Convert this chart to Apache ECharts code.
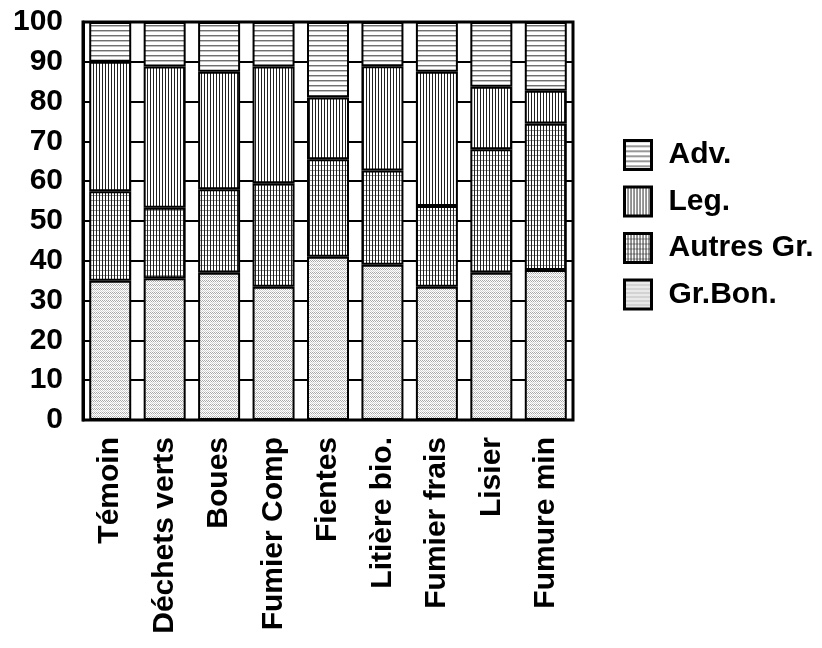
<!DOCTYPE html>
<html>
<head>
<meta charset="utf-8">
<script src="https://cdn.jsdelivr.net/npm/echarts@6/dist/echarts.min.js"></script>
<style>
html,body{margin:0;padding:0;background:#fff;}
#chart{width:822px;height:648px;}
</style>
</head>
<body>
<div id="chart"></div>
<script>
const categories = ['Témoin','Déchets verts','Boues','Fumier Comp','Fientes','Litière bio.','Fumier frais','Lisier','Fumure min'];
const grBon   = [35, 35.6, 37, 33.5, 41, 39, 33.5, 37, 37.7];
const autres  = [22.5, 17.7, 21, 26, 24.5, 23.7, 20.3, 31, 36.8];
const leg     = [32.5, 35.5, 29.5, 29.3, 15.5, 26.2, 33.7, 15.7, 8.2];
const adv     = [10, 11.2, 12.5, 11.2, 19, 11.1, 12.5, 16.3, 17.3];
const yTicks  = [0,10,20,30,40,50,60,70,80,90,100];

function makePattern(w, h, draw){
  const c = document.createElement('canvas');
  c.width = w; c.height = h;
  const ctx = c.getContext('2d');
  ctx.fillStyle = '#ffffff';
  ctx.fillRect(0,0,w,h);
  draw(ctx);
  return {image: c, repeat: 'repeat'};
}
const patBon = makePattern(4, 4, ctx => {
  ctx.fillStyle = '#a8a8a8';
  ctx.fillRect(0,0,1,1); ctx.fillRect(2,0,1,1);
  ctx.fillRect(1,1,1,1); ctx.fillRect(3,1,1,1);
  ctx.fillStyle = '#d4d4d4';
  ctx.fillRect(0,2,1,1); ctx.fillRect(2,2,1,1);
  ctx.fillRect(1,3,1,1); ctx.fillRect(3,3,1,1);
});
const patAutres = makePattern(3, 5, ctx => {
  ctx.fillStyle = '#909090';
  ctx.fillRect(0,0,3,1);
  ctx.fillStyle = '#202020';
  ctx.fillRect(0,0,1,5);
});
const patLeg = makePattern(3, 3, ctx => {
  ctx.fillStyle = '#202020';
  ctx.fillRect(0,0,1,3);
});
const patAdv = makePattern(5, 5, ctx => {
  ctx.fillStyle = '#707070';
  ctx.fillRect(0,0,5,1);
  ctx.fillStyle = '#c0c0c0';
  ctx.fillRect(0,1,5,1);
});

const FONT = 'Liberation Sans';
const FS = 30;
const chart = echarts.init(document.getElementById('chart'), null, {renderer:'canvas'});

function mk(name, data, pat){
  return {
    name: name, type: 'bar', stack: 'total', data: data,
    barWidth: 42,
    itemStyle: {color: pat, borderColor: '#000', borderWidth: 2},
    emphasis: {disabled: true}
  };
}

chart.setOption({
  animation: false,
  backgroundColor: '#fff',
  grid: {left: 83, right: 249, top: 22, bottom: 228, show: true, borderColor: '#000', borderWidth: 3, containLabel: false},
  legend: {
    orient: 'vertical', left: 618, top: 134,
    data: ['Adv.','Leg.','Autres Gr.','Gr.Bon.'],
    itemWidth: 27, itemHeight: 29, itemGap: 14.5,
    icon: 'rect',
    itemStyle: {borderColor: '#000', borderWidth: 3},
    textStyle: {fontFamily: FONT, fontWeight: 'bold', fontSize: FS, lineHeight: 30, color: '#000', padding: [0,0,0,12]},
    selectedMode: false
  },
  xAxis: {
    type: 'category', data: categories,
    axisLine: {show: true, lineStyle: {color: '#000', width: 2}},
    axisTick: {show: false},
    axisLabel: {rotate: 90, fontFamily: FONT, fontWeight: 'bold', fontSize: FS, color: '#000', margin: 17, interval: 0}
  },
  yAxis: {
    type: 'value', min: 0, max: 100, interval: 10,
    axisLine: {show: true, lineStyle: {color: '#000', width: 3}},
    axisTick: {show: true, inside: true, length: 5, lineStyle: {color: '#000', width: 2}},
    splitLine: {show: true, lineStyle: {color: '#000', width: 2}},
    axisLabel: {fontFamily: FONT, fontWeight: 'bold', fontSize: FS, color: '#000', margin: 20,
      formatter: v => yTicks.indexOf(v) >= 0 ? String(v) : ''}
  },
  series: [
    mk('Gr.Bon.', grBon, patBon),
    mk('Autres Gr.', autres, patAutres),
    mk('Leg.', leg, patLeg),
    mk('Adv.', adv, patAdv)
  ]
});
</script>
</body>
</html>
